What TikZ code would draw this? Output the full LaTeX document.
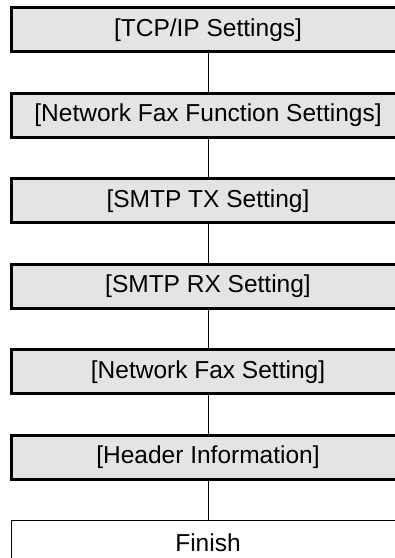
\documentclass[tikz,border=0pt]{standalone}
\usepackage{fontspec}
\setmainfont{Liberation Sans}
\usepackage{xcolor}
\usepackage{tikz}
\usetikzlibrary{calc}
\definecolor{boxgray}{HTML}{E4E4E4}

\begin{document}
\begin{tikzpicture}[
  x=1pt, y=-1pt,
  stepbox/.style={rectangle, fill=boxgray, minimum width=392pt, minimum height=43.5pt, inner sep=0pt, font=\fontsize{24.5}{28}\selectfont},
  endbox/.style={rectangle, minimum width=392pt, minimum height=43.5pt, inner sep=0pt, font=\fontsize{24.5}{28}\selectfont},
  rim/.style={black, line width=3pt, line join=miter},
  link/.style={black, line width=0.9pt}
]
\useasboundingbox (0,0) rectangle (395,558);
\clip (0,0) rectangle (395,558);

% setting steps
\node[stepbox] (tcp) at (208,29.75) {[TCP/IP Settings]};
\node[stepbox] (nff) at (208,115.25) {[Network Fax Function Settings]};
\node[stepbox] (stx) at (208,200.75) {[SMTP TX Setting]};
\node[stepbox] (srx) at (208,286.25) {[SMTP RX Setting]};
\node[stepbox] (nfs) at (208,371.75) {[Network Fax Setting]};
\node[stepbox] (hdr) at (208,457.25) {[Header Information]};

% last step
\node[endbox] (fin) at (208,542.75) {Finish};

% box rims, open on the right
\draw[rim] (tcp.north east) -- (tcp.north west) -- (tcp.south west) -- (tcp.south east);
\draw[rim] (nff.north east) -- (nff.north west) -- (nff.south west) -- (nff.south east);
\draw[rim] (stx.north east) -- (stx.north west) -- (stx.south west) -- (stx.south east);
\draw[rim] (srx.north east) -- (srx.north west) -- (srx.south west) -- (srx.south east);
\draw[rim] (nfs.north east) -- (nfs.north west) -- (nfs.south west) -- (nfs.south east);
\draw[rim] (hdr.north east) -- (hdr.north west) -- (hdr.south west) -- (hdr.south east);
\draw[link] (fin.south west) -- (fin.north west) -- (fin.north east);

% connectors
\draw[link] (tcp.south) -- (nff.north);
\draw[link] (nff.south) -- (stx.north);
\draw[link] (stx.south) -- (srx.north);
\draw[link] (srx.south) -- (nfs.north);
\draw[link] (nfs.south) -- (hdr.north);
\draw[link] (hdr.south) -- (fin.north);
\end{tikzpicture}
\end{document}
